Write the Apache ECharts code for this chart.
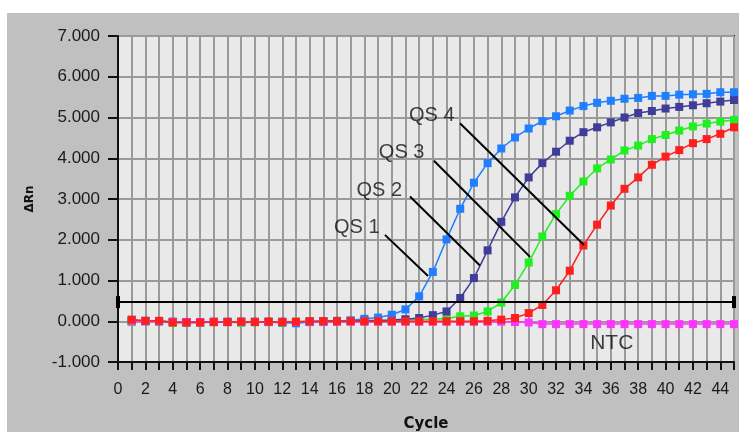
<!DOCTYPE html>
<html>
<head>
<meta charset="utf-8">
<script src="https://cdn.jsdelivr.net/npm/echarts@6/dist/echarts.min.js"></script>
<style>
html,body{margin:0;padding:0;background:#fff;}
#wrap{position:relative;width:739px;height:432px;background:#fff;overflow:hidden;}
#chart{position:absolute;left:7px;top:13px;width:732px;height:419px;}
</style>
</head>
<body>
<div id="wrap"><div id="chart"></div></div>
<script>
// Cycles 1..45
const cycles = Array.from({length: 45}, (_, i) => i + 1);

const qs1 = [0.01,0.00,0.00,-0.02,-0.03,-0.03,-0.02,-0.02,-0.02,-0.02,-0.02,-0.03,-0.05,-0.02,-0.01,0.00,0.02,0.06,0.09,0.16,
  0.29,0.61,1.21,2.01,2.76,3.40,3.88,4.24,4.51,4.73,4.91,5.03,5.17,5.28,5.36,5.41,5.46,5.48,5.53,5.53,5.56,5.57,5.58,5.62,5.62];
const qs2 = [0.02,0.01,0.00,-0.01,-0.02,-0.02,-0.01,-0.01,-0.01,-0.01,-0.01,-0.01,-0.02,-0.01,0.00,0.01,0.01,0.02,0.02,0.03,
  0.05,0.08,0.15,0.24,0.57,1.06,1.74,2.44,3.04,3.53,3.88,4.16,4.43,4.64,4.76,4.88,5.00,5.11,5.16,5.22,5.26,5.30,5.35,5.39,5.43];
const qs3 = [-0.02,0.00,0.00,-0.04,-0.03,-0.03,-0.02,-0.02,-0.04,-0.02,-0.02,-0.04,-0.01,0.00,0.00,0.00,0.01,0.01,0.01,0.02,
  0.03,0.04,0.05,0.07,0.12,0.14,0.24,0.46,0.89,1.44,2.08,2.63,3.08,3.43,3.75,3.97,4.19,4.31,4.47,4.57,4.68,4.78,4.85,4.90,4.94];
const qs4 = [0.04,0.01,0.01,-0.03,-0.03,-0.03,-0.02,-0.02,-0.01,-0.02,-0.01,-0.02,-0.01,0.00,0.00,0.00,0.00,0.00,0.00,0.00,
  0.00,0.00,0.00,0.00,0.00,0.00,0.01,0.04,0.08,0.20,0.40,0.76,1.24,1.86,2.37,2.84,3.25,3.53,3.84,4.04,4.20,4.37,4.47,4.60,4.76];
const ntc = [0.00,0.00,0.00,-0.02,-0.02,-0.02,-0.02,-0.02,-0.02,-0.02,-0.02,-0.02,-0.02,-0.01,-0.01,-0.01,-0.01,-0.01,-0.01,-0.01,
  -0.01,-0.01,-0.01,-0.01,-0.01,-0.01,-0.01,-0.01,-0.02,-0.03,-0.07,-0.07,-0.07,-0.07,-0.07,-0.07,-0.07,-0.07,-0.07,-0.07,-0.07,-0.07,-0.07,-0.07,-0.07];

const threshold = 0.47;

const yTicks = [-1, 0, 1, 2, 3, 4, 5, 6, 7];
const xLabelStep = 2;

// Annotation labels and pointer lines (data coordinates)
const annoNames = ['QS 1', 'QS 2', 'QS 3', 'QS 4'];
const annoLabelPos = [[17.44, 2.31], [19.09, 3.22], [20.72, 4.13], [22.92, 5.06]];
const ntcLabel = ['NTC'];
const ntcLabelPos = [[36.07, -0.54]];
const pointerStart = [[19.50, 2.12], [21.33, 3.06], [23.08, 3.94], [24.98, 4.86]];
const pointerEnd = [[22.65, 1.11], [26.44, 1.37], [30.10, 1.58], [34.04, 1.87]];

const colors = {
  qs1: '#1f7fff',
  qs2: '#3e3e9a',
  qs3: '#1ff01f',
  qs4: '#ff1f1f',
  ntc: '#ff33ff'
};

function pairs(vals) { return cycles.map((c, i) => [c, vals[i]]); }

function lineSeries(name, vals, color) {
  return {
    name: name,
    type: 'line',
    data: pairs(vals),
    symbol: 'rect',
    symbolSize: 8,
    showSymbol: true,
    lineStyle: {color: color, width: 1.5},
    itemStyle: {color: color},
    clip: false,
    animation: false,
    silent: true
  };
}

function labelSeries(name, names, pos, size) {
  return {
    name: name,
    type: 'scatter',
    data: names.map((n, i) => ({value: pos[i], name: n})),
    symbol: 'rect',
    symbolSize: 1,
    itemStyle: {color: 'rgba(0,0,0,0)'},
    label: {
      show: true,
      position: 'inside',
      formatter: p => p.name,
      fontFamily: 'Liberation Sans, Arial',
      fontSize: size,
      color: '#111'
    },
    silent: true,
    z: 10
  };
}

const chart = echarts.init(document.getElementById('chart'), null, {renderer: 'canvas'});

const qsLabels = labelSeries('annotations', annoNames, annoLabelPos, 20);
qsLabels.markLine = {
  silent: true,
  symbol: ['none', 'none'],
  label: {show: false},
  lineStyle: {color: '#000', width: 2, type: 'solid'},
  data: pointerStart.map((s, i) => [{coord: s}, {coord: pointerEnd[i]}])
};

const option = {
  backgroundColor: '#c0c0c0',
  animation: false,
  grid: {
    left: 111, top: 23, right: 5, bottom: 70,
    outerBoundsMode: 'none',
    containLabel: false,
    show: true,
    backgroundColor: '#e9e9e9',
    borderColor: '#1a1a1a',
    borderWidth: 2
  },
  xAxis: {
    type: 'value',
    min: 0, max: 45, interval: 1,
    name: 'Cycle',
    nameLocation: 'middle',
    nameGap: 55,
    nameTextStyle: {fontFamily: 'DejaVu Sans', fontWeight: 'bold', fontSize: 15, color: '#111'},
    axisLine: {show: true, onZero: false, lineStyle: {color: '#111', width: 2}},
    axisTick: {show: true, length: 8, lineStyle: {color: '#111', width: 2}},
    axisLabel: {
      margin: 20,
      fontFamily: 'Liberation Sans, Arial',
      fontSize: 16,
      color: '#1a1a1a',
      formatter: v => (v % xLabelStep === 0 && v <= 44) ? String(v) : ''
    },
    splitLine: {show: true, lineStyle: {color: '#9a9a9a', width: 2}}
  },
  yAxis: {
    type: 'value',
    min: yTicks[0], max: yTicks[yTicks.length - 1], interval: 1,
    name: 'ΔRn',
    nameLocation: 'middle',
    nameRotate: 90,
    nameGap: 82,
    nameTextStyle: {fontFamily: 'DejaVu Sans', fontWeight: 'bold', fontSize: 12, color: '#111'},
    axisLine: {show: true, onZero: false, lineStyle: {color: '#111', width: 2}},
    axisTick: {show: true, length: 10, lineStyle: {color: '#111', width: 2}},
    axisLabel: {
      margin: 18,
      fontFamily: 'Liberation Sans, Arial',
      fontSize: 17,
      color: '#1a1a1a',
      formatter: v => v.toFixed(3)
    },
    splitLine: {show: true, lineStyle: {color: '#9a9a9a', width: 2}}
  },
  series: [
    lineSeries('QS 3', qs3, colors.qs3),
    lineSeries('QS 2', qs2, colors.qs2),
    lineSeries('QS 1', qs1, colors.qs1),
    lineSeries('NTC', ntc, colors.ntc),
    lineSeries('QS 4', qs4, colors.qs4),
    qsLabels,
    labelSeries('ntcLabel', ntcLabel, ntcLabelPos, 21),
    {
      name: 'threshold',
      type: 'line',
      data: [],
      z: 9,
      markLine: {
        silent: true,
        symbol: ['rect', 'rect'],
        symbolSize: [12, 4],
        label: {show: false},
        lineStyle: {color: '#000', width: 2, type: 'solid'},
        itemStyle: {color: '#000'},
        data: [{yAxis: threshold}]
      }
    }
  ]
};

chart.setOption(option);
</script>
</body>
</html>
